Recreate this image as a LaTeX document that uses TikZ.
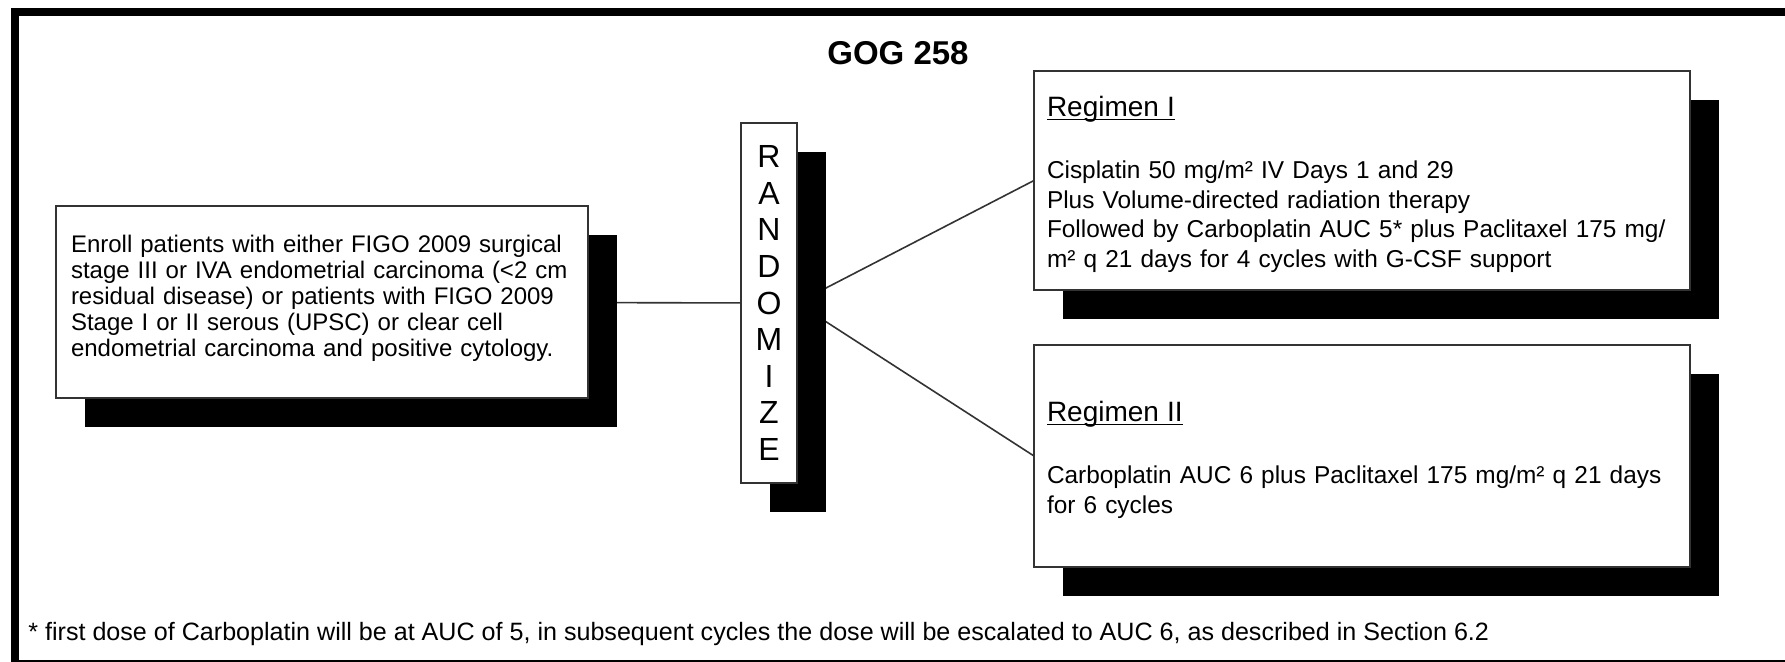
\documentclass[tikz,border=0pt]{standalone}
\usepackage{fontspec}
\setmainfont{Liberation Sans}
\usepackage{tikz}
\usetikzlibrary{positioning,shadows,backgrounds,calc}
\tikzset{
  gbox/.style  ={rectangle, draw=black!80, line width=0.75pt, fill=white,
                 inner sep=0pt, outer sep=0pt,
                 drop shadow={shadow xshift=14.5pt, shadow yshift=-14.5pt,
                              fill=black, opacity=1}},
  enrollbox/.style={gbox, minimum width=266pt, minimum height=96pt,
                 text width=251pt, align=left,
                 font=\fontsize{12}{13}\selectfont},
  randbox/.style ={gbox, minimum width=28pt, minimum height=180pt,
                 align=center, font=\fontsize{16}{18.3}\selectfont},
  regbox/.style  ={gbox, minimum width=328pt, text width=315pt, align=left,
                 font=\fontsize{12.2}{14.75}\selectfont},
  link/.style    ={draw=black!80, line width=0.8pt},
}
\newlength{\hdwd}
\newcommand{\hdline}[1]{\settowidth{\hdwd}{#1}\rlap{\rule[-1.8pt]{\hdwd}{0.7pt}}#1}
\newcommand{\reghead}[1]{\rule{0pt}{14pt}{\fontsize{14}{16}\selectfont\hdline{#1}}}

\begin{document}
\begin{tikzpicture}[x=0.5pt, y=-0.5pt]
  \clip (0,0) rectangle (1785,662);
  \draw[line width=4pt] (15,12) rectangle (1810,664);
  \node[font=\bfseries\fontsize{16.5}{20}\selectfont] (title) at (898,53) {GOG 258};
  \node[enrollbox] (enroll) at (322,302) {Enroll patients with either FIGO 2009 surgical\\
    stage III or IVA endometrial carcinoma (<2 cm\\
    residual disease) or patients with FIGO 2009\\
    Stage I or II serous (UPSC) or clear cell\\
    endometrial carcinoma and positive cytology.\rule[-6.5pt]{0pt}{1pt}};
  \node[randbox] (rand) at (769,303) {R\\A\\N\\D\\O\\M\\I\\Z\\E};
  \node[regbox, minimum height=109.5pt] (reg1) at (1362,180.5) {\reghead{Regimen I}\\[16.45pt]
    Cisplatin 50 mg/m² IV Days 1 and 29\\
    Plus Volume-directed radiation therapy\\
    Followed by Carboplatin AUC 5* plus Paclitaxel 175 mg/\\
    m² q 21 days for 4 cycles with G-CSF support};
  \node[regbox, minimum height=111pt] (reg2) at (1362,456) {\reghead{Regimen II}\\[16.45pt]
    Carboplatin AUC 6 plus Paclitaxel 175 mg/m² q 21 days\\
    for 6 cycles};
  \node[anchor=base west, inner sep=0pt, font=\fontsize{12.55}{14}\selectfont] (note) at (28,641)
    {* first dose of Carboplatin will be at AUC of 5, in subsequent cycles the dose will be escalated to AUC 6, as described in Section 6.2};
  \begin{scope}[on background layer]
    \draw[link] (enroll) -- (rand);
    \draw[link] (rand.east) -- (reg1.west);
    \draw[link] (rand.east) -- (reg2.west);
  \end{scope}
\end{tikzpicture}
\end{document}
